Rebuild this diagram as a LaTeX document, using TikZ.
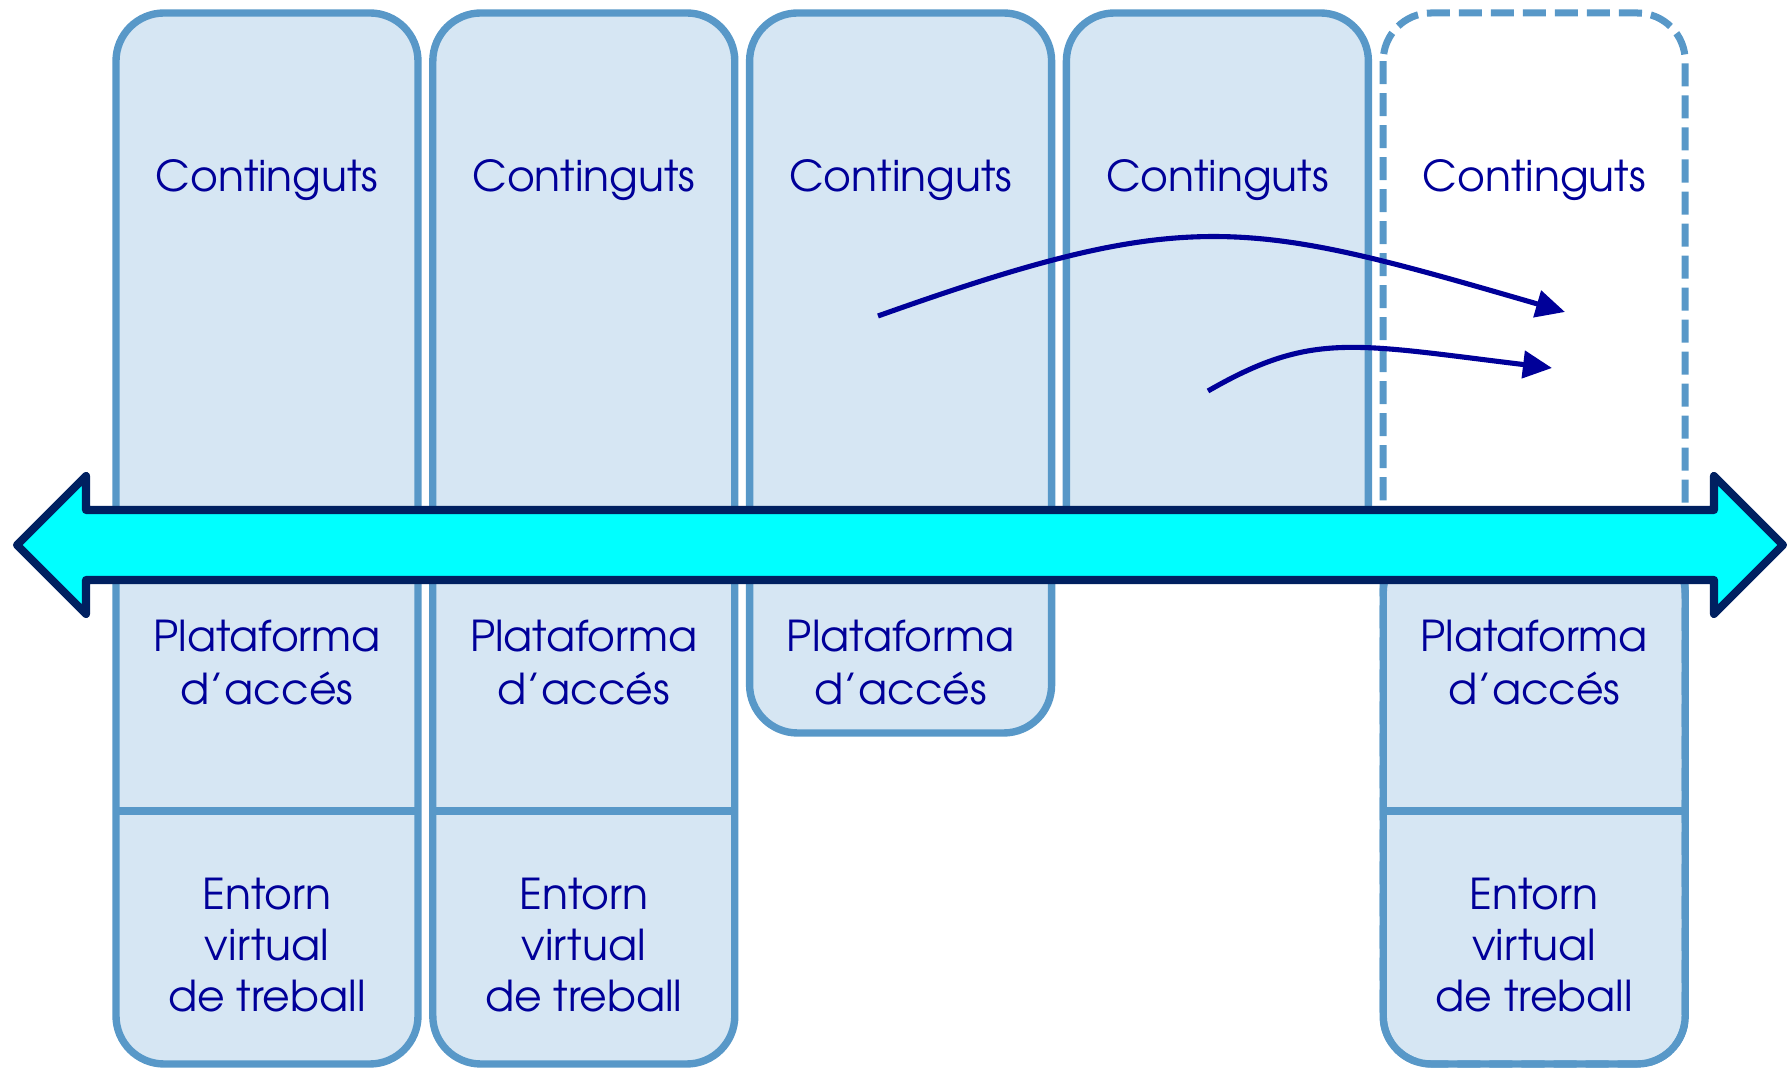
\documentclass[tikz,border=0pt]{standalone}
\usepackage{fontspec}
\setmainfont{TeX Gyre Adventor}
\usetikzlibrary{arrows.meta}
\definecolor{colfill}{RGB}{214,230,243}
\definecolor{colline}{RGB}{88,152,200}
\definecolor{txtblue}{RGB}{0,0,153}
\definecolor{arrnavy}{RGB}{0,32,96}
\definecolor{arrcyan}{RGB}{0,255,255}
\begin{document}
\begin{tikzpicture}[x=0.01cm,y=-0.01cm,
  colbox/.style={fill=colfill,draw=colline,line width=2.1pt},
  divline/.style={draw=colline,line width=2.1pt},
  dashbox/.style={draw=colline,line width=2pt,dash pattern=on 0.23cm off 0.09cm},
  lbl/.style={text=txtblue,font=\fontsize{12.1}{15.1}\selectfont,align=center,inner sep=0pt,anchor=base},
  lbltwo/.style={lbl,font=\fontsize{12.1}{14.6}\selectfont},
  flow/.style={draw=txtblue,line width=1.45pt,-{Triangle[length=0.29cm,width=0.27cm]}},
  bigarrow/.style={fill=arrcyan,draw=arrnavy,line width=2.3pt,line join=round}]
\useasboundingbox (0,0) rectangle (1787,1071);
% columns
\draw[colbox,rounded corners=0.48cm] (116,13) rectangle (418,1064);
\draw[divline] (116,811) -- (418,811);
\draw[colbox,rounded corners=0.48cm] (432.8,13) rectangle (734.8,1064);
\draw[divline] (432.8,811) -- (734.8,811);
\draw[colbox,rounded corners=0.48cm] (749.6,13) rectangle (1051.6,733);
\draw[colbox,rounded corners=0.48cm] (1066.4,13) rectangle (1368.4,575);
\draw[colbox,rounded corners=0.48cm] (1383.2,545) rectangle (1685.2,1064);
\draw[divline] (1383.2,811) -- (1685.2,811);
\draw[dashbox,rounded corners=0.48cm] (1383.2,13) rectangle (1685.2,1064);
% labels (base anchor = baseline of the last line)
\node[lbl] (c1) at (267,192) {Continguts};
\node[lbl] (c2) at (583.8,192) {Continguts};
\node[lbl] (c3) at (900.6,192) {Continguts};
\node[lbl] (c4) at (1217.4,192) {Continguts};
\node[lbl] (c5) at (1534.2,192) {Continguts};
\node[lbl] (p1) at (267,705) {Plataforma\\d’accés};
\node[lbl] (p2) at (583.8,705) {Plataforma\\d’accés};
\node[lbl] (p3) at (900.6,705) {Plataforma\\d’accés};
\node[lbl] (p5) at (1534.2,705) {Plataforma\\d’accés};
\node[lbltwo] (e1) at (267,1012) {Entorn\\virtual\\de treball};
\node[lbltwo] (e2) at (583.8,1012) {Entorn\\virtual\\de treball};
\node[lbltwo] (e5) at (1534.2,1012) {Entorn\\virtual\\de treball};
% big double arrow
\draw[bigarrow] (17,545) -- (86,476) -- (86,510) -- (1714,510) -- (1714,476) -- (1783,545)
  -- (1714,614) -- (1714,580) -- (86,580) -- (86,614) -- cycle;
% curved arrows
\coordinate (s1) at (878,316);
\coordinate (t1) at (1565,312);
\coordinate (s2) at (1208,391);
\coordinate (t2) at (1552,368);
\draw[flow] (s1) .. controls (1190,205) and (1245,219) .. (t1);
\draw[flow] (s2) .. controls (1312,331) and (1353,344) .. (t2);
\end{tikzpicture}
\end{document}
